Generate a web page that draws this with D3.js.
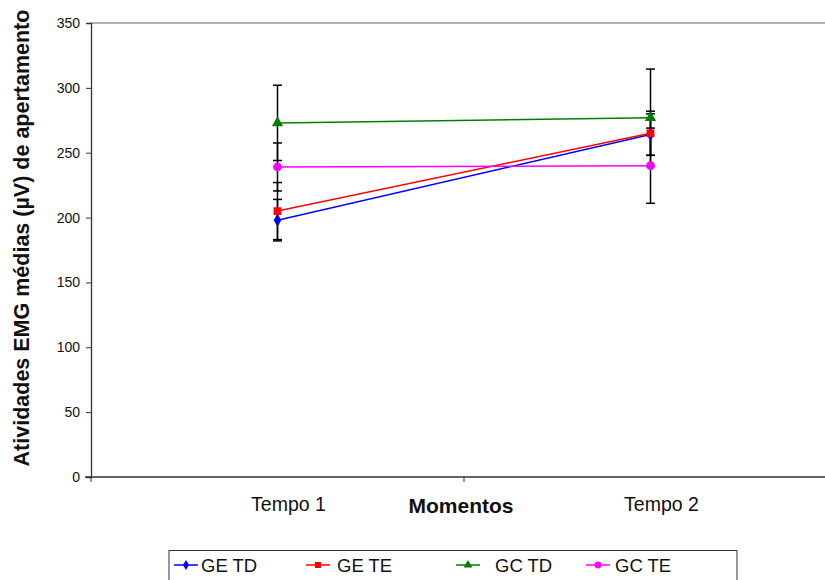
<!DOCTYPE html>
<html>
<head>
<meta charset="utf-8">
<script src="https://cdn.jsdelivr.net/npm/d3@7"></script>
<style>
  body { margin: 0; background: #fff; }
  svg { font-family: "Liberation Sans", Arial, sans-serif; }
</style>
</head>
<body>
<div id="chart"></div>
<script>
// Categories and series values
const categories = ["Tempo 1", "Tempo 2"];
const seriesNames = ["GE TD", "GE TE", "GC TD", "GC TE"];
const geTD = [198, 264];
const geTE = [205, 265];
const gcTD = [273, 277];
const gcTE = [239, 240];
// error bar half-widths (standard deviations)
const geTDErr = [16, 16];
const geTEErr = [22, 17];
const gcTDErr = [29, 37.5];
const gcTEErr = [18.5, 29];
const yTicks = [0, 50, 100, 150, 200, 250, 300, 350];

const colors = ["#0000ff", "#ff0000", "#008000", "#ff00ff"];
const symbols = [d3.symbolDiamond, d3.symbolSquare, d3.symbolTriangle, d3.symbolCircle];
const symbolSizes = [50, 60, 55, 60];

const series = [
    { name: seriesNames[0], values: geTD, err: geTDErr },
    { name: seriesNames[1], values: geTE, err: geTEErr },
    { name: seriesNames[2], values: gcTD, err: gcTDErr },
    { name: seriesNames[3], values: gcTE, err: gcTEErr }
];

let width = 825,
    height = 580;

let margin = { top: 23, left: 91, bottom: 103, right: -12 };

let svg = d3.select("#chart")
    .append("svg")
    .attr("width", width)
    .attr("height", height);

let x = d3.scaleBand()
    .domain(categories)
    .range([margin.left, width - margin.right]);

let y = d3.scaleLinear()
    .domain([0, 350])
    .range([height - margin.bottom, margin.top]);

// top border of the plot area
svg.append("line")
    .attr("x1", margin.left)
    .attr("x2", width)
    .attr("y1", y(350))
    .attr("y2", y(350))
    .attr("stroke", "#999")
    .attr("stroke-width", 1.5);

// y axis
let yAxis = svg.append("g")
    .attr("transform", `translate(${margin.left},0)`)
    .call(d3.axisLeft(y).tickValues(yTicks).tickSize(5).tickPadding(6));
yAxis.select(".domain").attr("stroke", "#333").attr("stroke-width", 1.3);
yAxis.selectAll(".tick line").attr("stroke", "#333");
yAxis.selectAll("text").attr("font-size", 14).attr("fill", "#111");

// x axis with ticks between categories
let xAxis = svg.append("g")
    .attr("transform", `translate(0,${y(0)})`);
xAxis.append("line")
    .attr("x1", margin.left - 6)
    .attr("x2", width)
    .attr("stroke", "#333")
    .attr("stroke-width", 1.3);
xAxis.selectAll(".xtick")
    .data([margin.left, x(categories[1])])
    .enter().append("line")
    .attr("x1", d => d).attr("x2", d => d)
    .attr("y1", 0).attr("y2", 5)
    .attr("stroke", "#333");
xAxis.selectAll(".xlabel")
    .data(categories)
    .enter().append("text")
    .attr("x", d => x(d) + x.bandwidth() / 2 + 11)
    .attr("y", 34)
    .attr("text-anchor", "middle")
    .attr("font-size", 19.5)
    .attr("fill", "#111")
    .text(d => d);

// axis titles
svg.append("text")
    .attr("x", 461)
    .attr("y", 513)
    .attr("text-anchor", "middle")
    .attr("font-size", 21)
    .attr("font-weight", "bold")
    .attr("fill", "#111")
    .text("Momentos");

svg.append("text")
    .attr("transform", "rotate(-90)")
    .attr("x", -238)
    .attr("y", 29)
    .attr("text-anchor", "middle")
    .attr("font-size", 21.5)
    .attr("font-weight", "bold")
    .attr("fill", "#111")
    .text("Atividades EMG médias (µV) de apertamento");

let cx = c => x(c) + x.bandwidth() / 2;

// error bars
series.forEach(s => {
    s.values.forEach((v, i) => {
        let xc = cx(categories[i]);
        let g = svg.append("g");
        g.append("line")
            .attr("x1", xc).attr("x2", xc)
            .attr("y1", y(v - s.err[i])).attr("y2", y(v + s.err[i]))
            .attr("stroke", "#000").attr("stroke-width", 1.5);
        [v - s.err[i], v + s.err[i]].forEach(e => {
            g.append("line")
                .attr("x1", xc - 4.5).attr("x2", xc + 4.5)
                .attr("y1", y(e)).attr("y2", y(e))
                .attr("stroke", "#000").attr("stroke-width", 1.5);
        });
    });
});

// lines and markers
let line = d3.line()
    .x((d, i) => cx(categories[i]))
    .y(d => y(d));

series.forEach((s, k) => {
    svg.append("path")
        .datum(s.values)
        .attr("d", line)
        .attr("fill", "none")
        .attr("stroke", colors[k])
        .attr("stroke-width", 1.5);
    svg.selectAll(".m" + k)
        .data(s.values)
        .enter().append("path")
        .attr("transform", (d, i) => `translate(${cx(categories[i])},${y(d)})`)
        .attr("d", d3.symbol().type(symbols[k]).size(symbolSizes[k]))
        .attr("fill", colors[k]);
});

// legend
let legend = svg.append("g");
legend.append("rect")
    .attr("x", 169)
    .attr("y", 550.5)
    .attr("width", 568)
    .attr("height", 40)
    .attr("fill", "none")
    .attr("stroke", "#333")
    .attr("stroke-width", 1);

const legendX = [174, 306, 456, 586];
const legendTextX = [201, 337, 495, 615];

series.forEach((s, k) => {
    let ly = 565;
    legend.append("line")
        .attr("x1", legendX[k]).attr("x2", legendX[k] + 24)
        .attr("y1", ly).attr("y2", ly)
        .attr("stroke", colors[k]).attr("stroke-width", 1.5);
    legend.append("path")
        .attr("transform", `translate(${legendX[k] + 12},${ly})`)
        .attr("d", d3.symbol().type(symbols[k]).size(symbolSizes[k] * 0.6))
        .attr("fill", colors[k]);
    legend.append("text")
        .attr("x", legendTextX[k])
        .attr("y", ly + 7)
        .attr("font-size", 18.5)
        .attr("fill", "#111")
        .text(s.name);
});
</script>
</body>
</html>
